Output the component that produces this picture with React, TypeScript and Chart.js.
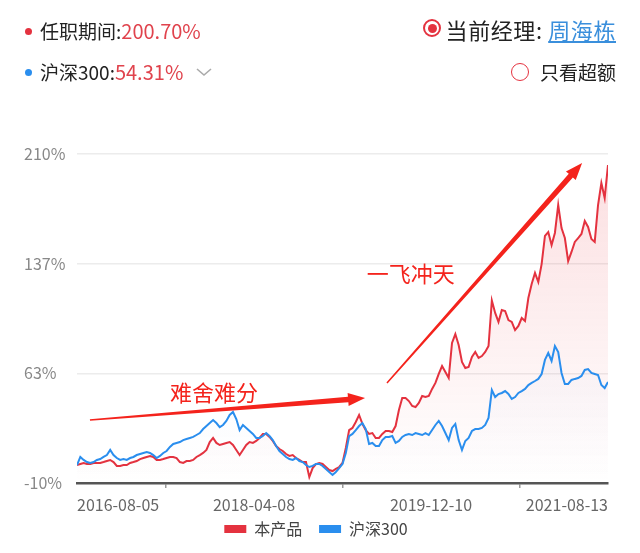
import React, { useEffect, useRef } from 'react';
import { Chart, registerables } from 'chart.js';

Chart.register(...registerables);

const FONT = '"Noto Sans CJK SC", "Noto Sans", sans-serif';

const SERIES_NAMES = ['本产品', '沪深300'];
const SERIES_COLORS = ['#e4323f', '#2a8eee'];
const X_LABELS = ['2016-08-05', '2018-04-08', '2019-12-10', '2021-08-13'];
const Y_MIN = -10;
const Y_MAX = 210;
const Y_TICK_COUNT = 4;

// 本产品 cumulative return (%)
const PRODUCT = [
  2.0, 2.7, 3.4, 2.7, 2.7, 3.4, 3.4, 3.4, 4.0, 4.7,
  5.4, 4.0, 1.4, 1.4, 2.0, 2.0, 3.4, 4.0, 4.7, 6.0,
  6.7, 7.4, 8.1, 7.4, 5.4, 5.4, 6.0, 6.7, 7.4, 7.4,
  6.7, 4.0, 3.4, 4.7, 4.7, 5.4, 7.4, 8.7, 10.1, 12.1,
  17.4, 20.1, 16.8, 15.4, 16.1, 16.8, 17.4, 15.4, 12.1, 8.7,
  12.1, 15.4, 17.4, 16.8, 18.1, 20.1, 22.8, 22.8, 20.8, 18.1,
  14.7, 12.7, 11.4, 9.4, 8.1, 8.7, 6.7, 5.4, 4.0, 4.0,
  -6.0, 0.0, 2.7, 3.4, 2.7, 0.7, -1.3, -2.0, -0.6, 0.7,
  3.4, 13.4, 25.4, 26.8, 30.8, 35.5, 29.5, 25.4, 22.8, 23.4,
  20.1, 20.1, 22.8, 24.8, 24.8, 24.1, 28.1, 38.8, 46.8, 46.8,
  44.8, 41.5, 40.8, 43.5, 48.2, 47.5, 48.2, 52.9, 56.9, 62.9,
  68.2, 64.2, 60.2, 83.6, 89.6, 82.3, 70.9, 66.9, 67.6, 74.3,
  77.6, 73.6, 74.9, 77.6, 81.6, 112.0, 103.7, 97.7, 105.7, 105.0,
  99.0, 97.7, 92.3, 95.0, 100.3, 98.3, 113.7, 123.1, 130.5, 124.4,
  136.4, 155.2, 157.8, 149.1, 157.2, 175.9, 160.5, 153.8, 138.4, 144.5,
  151.2, 153.8, 156.5, 165.2, 161.2, 153.2, 151.2, 175.9, 190.6, 180.6,
  202.6,
];

// 沪深300 cumulative return (%)
const HS300 = [
  2.0, 7.4, 5.4, 4.0, 3.4, 4.0, 5.4, 6.0, 7.4, 8.7,
  12.1, 8.7, 6.7, 5.4, 6.0, 5.4, 6.7, 7.4, 8.7, 9.4,
  10.1, 10.7, 10.1, 8.7, 6.7, 8.1, 10.1, 11.4, 14.1, 16.1,
  16.8, 17.4, 18.7, 19.4, 20.1, 20.8, 22.1, 23.4, 26.1, 28.1,
  30.1, 32.1, 30.1, 27.4, 28.8, 31.5, 35.5, 37.5, 32.8, 25.4,
  28.8, 26.8, 24.8, 22.8, 20.1, 20.1, 21.4, 23.4, 21.4, 18.7,
  14.7, 11.4, 9.4, 7.4, 6.0, 5.4, 6.7, 4.7, 4.0, 2.0,
  0.7, 1.4, 2.7, 2.7, 1.4, -0.6, -2.6, -4.6, -2.6, 0.0,
  2.7, 10.1, 21.4, 22.8, 25.4, 28.1, 30.1, 26.1, 16.1, 16.8,
  14.7, 14.7, 18.7, 20.8, 20.8, 21.4, 16.8, 18.1, 20.8, 22.1,
  22.8, 22.1, 23.4, 22.8, 22.1, 23.4, 22.1, 25.4, 28.8, 31.5,
  28.1, 23.4, 18.7, 26.8, 29.5, 18.7, 12.1, 18.1, 20.1, 24.8,
  26.1, 26.1, 26.8, 28.8, 33.5, 52.2, 47.5, 49.5, 50.2, 51.5,
  49.5, 46.2, 47.5, 50.2, 51.5, 52.9, 55.5, 56.9, 58.2, 59.6,
  62.9, 72.3, 76.9, 71.6, 81.6, 77.6, 63.6, 56.2, 56.2, 58.9,
  59.6, 60.2, 61.6, 65.6, 66.2, 63.6, 62.9, 62.2, 55.5, 53.5,
  57.6,
];

// annotations: text anchor and arrow (index, value) in data units
const NOTE_TEXTS = ['难舍难分', '一飞冲天'];
const NOTE_TEXT_AT = [[41.3, 50.2], [100.6, 129.8]];
const NOTE_ARROW_FROM = [[3.9, 32.1], [93.4, 56.9]];
const NOTE_ARROW_TO = [[86.8, 46.8], [152.2, 204.0]];
const NOTE_COLOR = '#f4231c';

function drawArrow(ctx: CanvasRenderingContext2D, x1: number, y1: number, x2: number, y2: number) {
  const w0 = 1.5, w1 = 5.5, headLen = 17, headW = 13;
  const dx = x2 - x1, dy = y2 - y1;
  const len = Math.hypot(dx, dy);
  const ux = dx / len, uy = dy / len;
  const nx = -uy, ny = ux;
  const bx = x2 - ux * headLen, by = y2 - uy * headLen;
  ctx.beginPath();
  ctx.moveTo(x1 + nx * w0 / 2, y1 + ny * w0 / 2);
  ctx.lineTo(bx + nx * w1 / 2, by + ny * w1 / 2);
  ctx.lineTo(bx + nx * headW / 2, by + ny * headW / 2);
  ctx.lineTo(x2, y2);
  ctx.lineTo(bx - nx * headW / 2, by - ny * headW / 2);
  ctx.lineTo(bx - nx * w1 / 2, by - ny * w1 / 2);
  ctx.lineTo(x1 - nx * w0 / 2, y1 - ny * w0 / 2);
  ctx.closePath();
  ctx.fill();
}

const notesPlugin = {
  id: 'notes',
  afterDatasetsDraw(chart: any) {
    const { ctx, scales } = chart;
    const xs = scales.x, ys = scales.y;
    ctx.save();
    ctx.fillStyle = NOTE_COLOR;
    NOTE_TEXTS.forEach((t, i) => {
      const f = NOTE_ARROW_FROM[i], to = NOTE_ARROW_TO[i];
      drawArrow(ctx, xs.getPixelForValue(f[0]), ys.getPixelForValue(f[1]), xs.getPixelForValue(to[0]), ys.getPixelForValue(to[1]));
      ctx.font = `22px ${FONT}`;
      ctx.textAlign = 'center';
      ctx.textBaseline = 'middle';
      ctx.fillText(t, xs.getPixelForValue(NOTE_TEXT_AT[i][0]), ys.getPixelForValue(NOTE_TEXT_AT[i][1]));
    });
    ctx.restore();
  },
};

function makeGradient(rgb: string, a0: number, a1: number) {
  return (context: any) => {
    const { chart } = context;
    const { ctx, chartArea } = chart;
    if (!chartArea) return 'rgba(0,0,0,0)';
    const g = ctx.createLinearGradient(0, chartArea.top, 0, chartArea.bottom);
    g.addColorStop(0, `rgba(${rgb},${a0})`);
    g.addColorStop(1, `rgba(${rgb},${a1})`);
    return g;
  };
}

function ChartBox() {
  const ref = useRef<HTMLCanvasElement | null>(null);
  useEffect(() => {
    if (!ref.current) return;
    const n = PRODUCT.length;
    const chart = new Chart(ref.current, {
      type: 'line',
      data: {
        datasets: [
          {
            label: SERIES_NAMES[0],
            data: PRODUCT.map((v, i) => ({ x: i, y: v })),
            borderColor: SERIES_COLORS[0],
            backgroundColor: makeGradient('232,60,70', 0.17, 0.0),
            fill: 'start',
            order: 1,
          },
          {
            label: SERIES_NAMES[1],
            data: HS300.map((v, i) => ({ x: i, y: v })),
            borderColor: SERIES_COLORS[1],
            backgroundColor: makeGradient('60,120,230', 0.07, 0.0),
            fill: 'start',
            order: 0,
          },
        ],
      },
      options: {
        responsive: true,
        maintainAspectRatio: false,
        animation: false,
        layout: { padding: { left: 24, right: 32, top: 154, bottom: 6 } },
        elements: {
          point: { radius: 0, hoverRadius: 0 },
          line: { borderWidth: 2, tension: 0 },
        },
        plugins: {
          tooltip: { enabled: false },
          legend: {
            position: 'bottom',
            labels: {
              boxWidth: 22,
              boxHeight: 8,
              padding: 6,
              color: '#444',
              font: { size: 16, family: FONT },
              generateLabels: () =>
                SERIES_NAMES.map((t, i) => ({
                  text: i < SERIES_NAMES.length - 1 ? t + '   ' : t,
                  fillStyle: SERIES_COLORS[i],
                  strokeStyle: SERIES_COLORS[i],
                  lineWidth: 0,
                  hidden: false,
                  datasetIndex: i,
                  fontColor: '#444',
                })),
            },
          },
        },
        scales: {
          x: {
            type: 'linear',
            min: 0,
            max: n - 1,
            afterBuildTicks: (s: any) => {
              s.ticks = X_LABELS.map((_, i) => ({ value: ((n - 1) * i) / (X_LABELS.length - 1) }));
            },
            afterFit: (s: any) => {
              s.height = 32;
            },
            ticks: {
              callback: (_v: any, i: number) => X_LABELS[i],
              align: 'inner',
              maxRotation: 0,
              autoSkip: false,
              color: '#666',
              font: { size: 16, family: FONT },
              padding: 7,
            },
            grid: {
              offset: true,
              drawOnChartArea: false,
              drawTicks: true,
              tickLength: 5,
              color: '#9a9a9a',
              lineWidth: 1.5,
            },
            border: { display: true, color: '#555', width: 2.5 },
          },
          y: {
            min: Y_MIN,
            max: Y_MAX,
            afterBuildTicks: (s: any) => {
              s.ticks = Array.from({ length: Y_TICK_COUNT }, (_, i) => ({
                value: Y_MIN + ((Y_MAX - Y_MIN) * i) / (Y_TICK_COUNT - 1),
              }));
            },
            afterFit: (s: any) => {
              s.width = 53;
            },
            ticks: {
              callback: (v: any) => Math.round(Number(v)) + '%',
              crossAlign: 'far',
              color: '#888',
              font: { size: 16, family: FONT },
            },
            grid: { color: '#ececec', drawTicks: false, lineWidth: 1.5 },
            border: { display: false },
          },
        },
      },
      plugins: [notesPlugin],
    } as any);
    return () => chart.destroy();
  }, []);
  return (
    <div style={{ position: 'absolute', left: 0, top: 0, width: 640, height: 553 }}>
      <canvas ref={ref} />
    </div>
  );
}

const dot = (color: string, top: number): React.CSSProperties => ({
  position: 'absolute', left: 24.5, top, width: 7, height: 7, borderRadius: '50%', background: color,
});

export default function App() {
  const text: React.CSSProperties = { position: 'absolute', fontSize: 19, lineHeight: '24px', color: '#222', whiteSpace: 'nowrap' };
  const num: React.CSSProperties = { color: '#e0434d', fontSize: 20 };
  return (
    <div style={{ position: 'absolute', left: 0, top: 0, width: 640, height: 553, background: '#fff', fontFamily: FONT, overflow: 'hidden' }}>
      <ChartBox />
      <div style={dot('#e4323f', 27.5)} />
      <div style={{ ...text, left: 40, top: 19 }}>
        任职期间:<span style={num}>200.70%</span>
      </div>
      <div style={dot('#2a8eee', 68.5)} />
      <div style={{ ...text, left: 40, top: 60 }}>
        沪深300:<span style={num}>54.31%</span>
      </div>
      <svg style={{ position: 'absolute', left: 195, top: 67 }} width="18" height="10">
        <polyline points="2,2 9,8 16,2" fill="none" stroke="#aaa" strokeWidth="1.6" />
      </svg>
      <div style={{ position: 'absolute', left: 423, top: 19, width: 18, height: 18, borderRadius: '50%', border: '2px solid #e4323f', boxSizing: 'border-box' }}>
        <div style={{ position: 'absolute', left: 2.5, top: 2.5, width: 9, height: 9, borderRadius: '50%', background: '#e4323f' }} />
      </div>
      <div style={{ ...text, right: 24, top: 15, fontSize: 22, lineHeight: '28px', letterSpacing: 0.6 }}>
        当前经理: <span style={{ color: '#3a8fdc', textDecoration: 'underline' }}>周海栋</span>
      </div>
      <div style={{ position: 'absolute', left: 511, top: 63, width: 18, height: 18, borderRadius: '50%', border: '1.5px solid #e4323f', boxSizing: 'border-box' }} />
      <div style={{ ...text, right: 24, top: 60 }}>只看超额</div>
    </div>
  );
}
